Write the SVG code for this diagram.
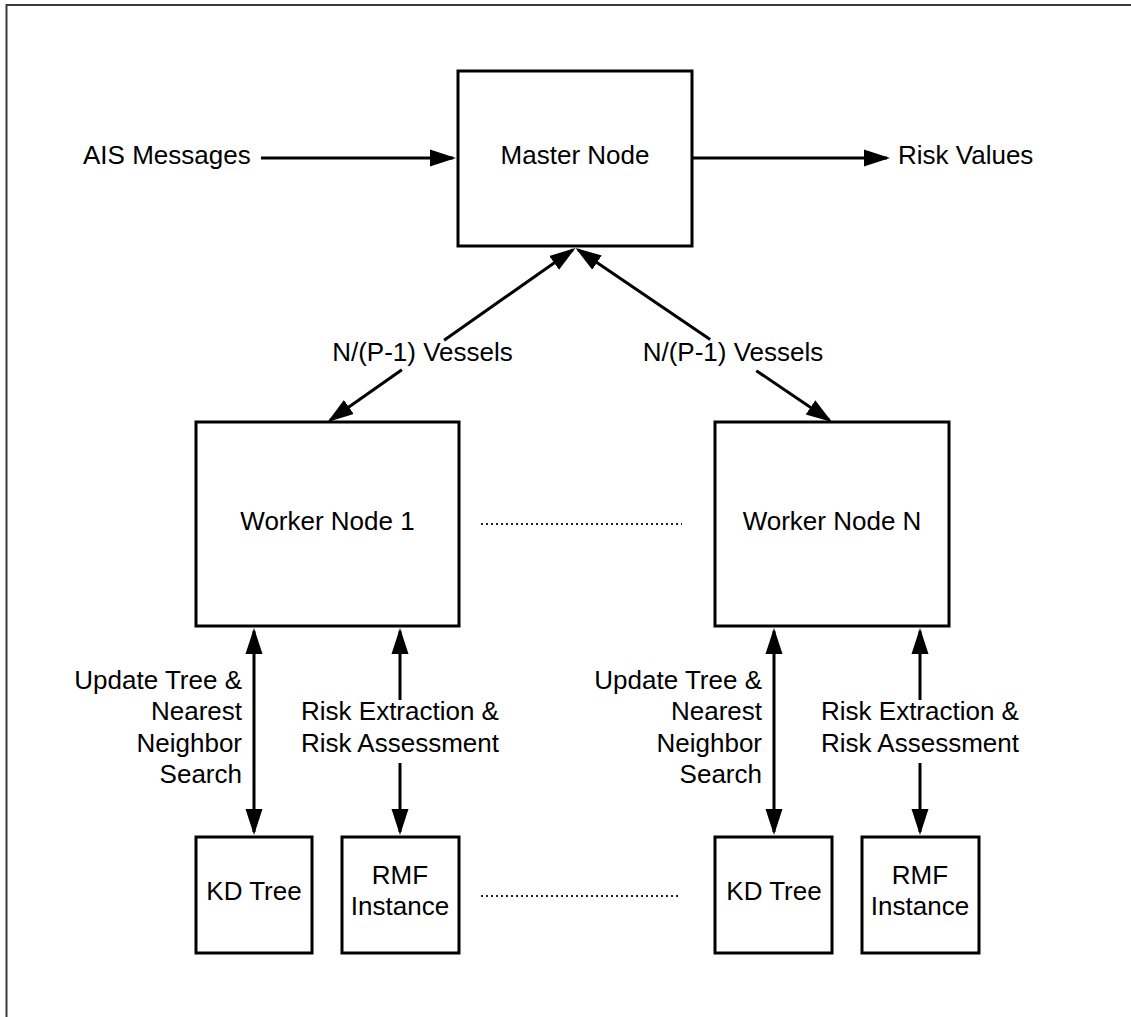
<svg xmlns="http://www.w3.org/2000/svg" width="1131" height="1017" viewBox="0 0 1131 1017">
<style>
text{font-family:"Liberation Sans",Arial,sans-serif;font-size:26px;fill:#000}
.box{fill:#fff;stroke:#000;stroke-width:3}
.c{stroke:#000;stroke-width:3;fill:none}
.dot{stroke:#222;stroke-width:2;stroke-dasharray:2 3;fill:none}
.mid{text-anchor:middle}
.end{text-anchor:end}
</style>
<defs>
<marker id="ah" markerUnits="userSpaceOnUse" markerWidth="28" markerHeight="20" viewBox="0 0 28 20" refX="23" refY="10" orient="auto-start-reverse">
<path d="M0,1.5 L26,10 L0,18.5 z" fill="#000"/>
</marker>
</defs>
<rect x="6.5" y="5" width="1200" height="1100" fill="#fff" stroke="#3a3a3a" stroke-width="2"/>

<g id="connectors">
<line class="c" x1="261" y1="158" x2="453" y2="158" marker-end="url(#ah)"/>
<line class="c" x1="693" y1="158" x2="887" y2="158" marker-end="url(#ah)"/>
<line class="c" x1="444.1" y1="340.2" x2="573" y2="249.7" marker-end="url(#ah)"/>
<line class="c" x1="401.9" y1="369.8" x2="330" y2="420.3" marker-end="url(#ah)"/>
<line class="c" x1="710.2" y1="339.4" x2="578" y2="249.7" marker-end="url(#ah)"/>
<line class="c" x1="756.3" y1="370.7" x2="829.5" y2="420.3" marker-end="url(#ah)"/>
<line class="c" x1="254" y1="631" x2="254" y2="832" marker-start="url(#ah)" marker-end="url(#ah)"/>
<line class="c" x1="400" y1="700" x2="400" y2="631" marker-end="url(#ah)"/>
<line class="c" x1="400" y1="763" x2="400" y2="832" marker-end="url(#ah)"/>
<line class="c" x1="774" y1="631" x2="774" y2="832" marker-start="url(#ah)" marker-end="url(#ah)"/>
<line class="c" x1="920" y1="700" x2="920" y2="631" marker-end="url(#ah)"/>
<line class="c" x1="920" y1="763" x2="920" y2="832" marker-end="url(#ah)"/>
<line class="dot" x1="481" y1="524" x2="682" y2="524"/>
<line class="dot" x1="481" y1="896" x2="681" y2="896"/>
</g>

<g id="labels">
<text x="83" y="164">AIS Messages</text>
<text x="898" y="164">Risk Values</text>
<text class="mid" x="422.5" y="361">N/(P-1) Vessels</text>
<text class="mid" x="733" y="361">N/(P-1) Vessels</text>
<text class="end" x="242" y="689">Update Tree &amp;</text>
<text class="end" x="242" y="720">Nearest</text>
<text class="end" x="242" y="752">Neighbor</text>
<text class="end" x="242" y="783">Search</text>
<text class="mid" x="400" y="720">Risk Extraction &amp;</text>
<text class="mid" x="400" y="752">Risk Assessment</text>
<text class="end" x="762" y="689">Update Tree &amp;</text>
<text class="end" x="762" y="720">Nearest</text>
<text class="end" x="762" y="752">Neighbor</text>
<text class="end" x="762" y="783">Search</text>
<text class="mid" x="920" y="720">Risk Extraction &amp;</text>
<text class="mid" x="920" y="752">Risk Assessment</text>
</g>

<g id="master-node">
<rect class="box" x="458" y="71" width="234" height="175"/>
<text class="mid" x="575" y="164">Master Node</text>
</g>
<g id="worker-node-1">
<rect class="box" x="196" y="422" width="263" height="204"/>
<text class="mid" x="327.5" y="530">Worker Node 1</text>
</g>
<g id="worker-node-n">
<rect class="box" x="715" y="422" width="234" height="204"/>
<text class="mid" x="832" y="530">Worker Node N</text>
</g>
<g id="kd-tree-1">
<rect class="box" x="196" y="837" width="116" height="116"/>
<text class="mid" x="254" y="900">KD Tree</text>
</g>
<g id="rmf-instance-1">
<rect class="box" x="342" y="837" width="117" height="116"/>
<text class="mid" x="400" y="884">RMF</text>
<text class="mid" x="400" y="915">Instance</text>
</g>
<g id="kd-tree-n">
<rect class="box" x="715" y="837" width="117" height="116"/>
<text class="mid" x="774" y="900">KD Tree</text>
</g>
<g id="rmf-instance-n">
<rect class="box" x="862" y="837" width="117" height="116"/>
<text class="mid" x="920" y="884">RMF</text>
<text class="mid" x="920" y="915">Instance</text>
</g>
</svg>
